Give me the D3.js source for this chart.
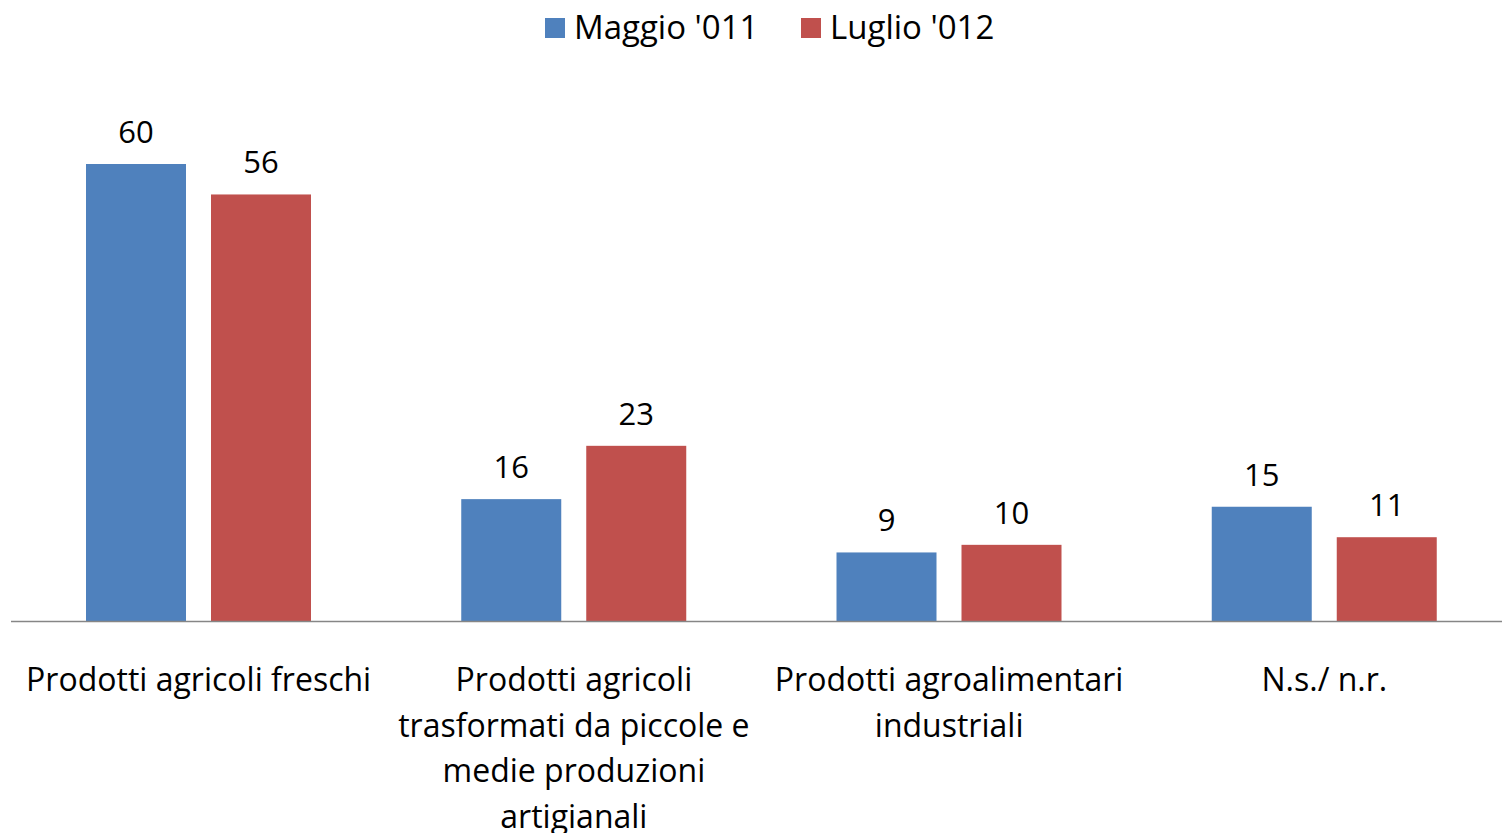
<!DOCTYPE html>
<html>
<head>
<meta charset="utf-8">
<script src="https://cdn.jsdelivr.net/npm/d3@7"></script>
<style>
  body { margin: 0; background: #fff; }
  svg text { font-family: "Open Sans", sans-serif; fill: #000; }
</style>
</head>
<body>
<svg width="1502" height="833"></svg>
<script>
// categories and the two series
var categories = [
  ["Prodotti agricoli freschi"],
  ["Prodotti agricoli", "trasformati da piccole e", "medie produzioni", "artigianali"],
  ["Prodotti agroalimentari", "industriali"],
  ["N.s./ n.r."]
]
var seriesNames = ["Maggio '011", "Luglio '012"]
var maggio = [60, 16, 9, 15]
var luglio = [56, 23, 10, 11]
var colors = ["#4F81BD", "#C0504D"]

var svg = d3.select('svg')
var baseline = 621

var x0 = d3.scaleBand().domain(d3.range(categories.length)).range([11, 1512])
var x1 = d3.scaleBand().domain([0, 1]).range([75, 300]).paddingInner(0.2)
var y = d3.scaleLinear().domain([0, 60]).range([baseline, 164])

var rows = categories.map(function (c, i) { return [maggio[i], luglio[i]] })

var groups = svg.append('g').selectAll('g')
  .data(rows)
  .enter().append('g')
  .attr('transform', function (d, i) { return 'translate(' + x0(i) + ',0)' })

groups.selectAll('rect')
  .data(function (d) { return d })
  .enter().append('rect')
  .attr('x', function (d, j) { return x1(j) })
  .attr('width', x1.bandwidth())
  .attr('y', function (d) { return y(d) })
  .attr('height', function (d) { return baseline - y(d) })
  .attr('fill', function (d, j) { return colors[j] })

groups.selectAll('text.val')
  .data(function (d) { return d })
  .enter().append('text')
  .attr('class', 'val')
  .attr('x', function (d, j) { return x1(j) + x1.bandwidth() / 2 })
  .attr('y', function (d) { return y(d) - 21 })
  .attr('text-anchor', 'middle')
  .attr('font-size', 31)
  .text(function (d) { return d })

// axis line
svg.append('line')
  .attr('x1', 11).attr('x2', 1502)
  .attr('y1', baseline + 0.5).attr('y2', baseline + 0.5)
  .attr('stroke', '#868686').attr('stroke-width', 1.5)

// category labels
var labels = svg.append('g').selectAll('text')
  .data(categories)
  .enter().append('text')
  .attr('text-anchor', 'middle')
  .attr('font-size', 32)
  .attr('x', function (d, i) { return x0(i) + x0.bandwidth() / 2 })
  .attr('y', 691)
labels.selectAll('tspan')
  .data(function (d) { return d })
  .enter().append('tspan')
  .attr('x', function () { return d3.select(this.parentNode).attr('x') })
  .attr('dy', function (d, k) { return k === 0 ? 0 : 45.5 })
  .text(function (d) { return d })

// legend
var legendX = [545, 801]
var legend = svg.append('g').selectAll('g')
  .data(seriesNames)
  .enter().append('g')
  .attr('transform', function (d, i) { return 'translate(' + legendX[i] + ',0)' })
legend.append('rect')
  .attr('x', 0).attr('y', 18).attr('width', 20).attr('height', 20)
  .attr('fill', function (d, i) { return colors[i] })
legend.append('text')
  .attr('x', 29).attr('y', 39)
  .attr('font-size', 33)
  .text(function (d) { return d })
</script>
</body>
</html>
